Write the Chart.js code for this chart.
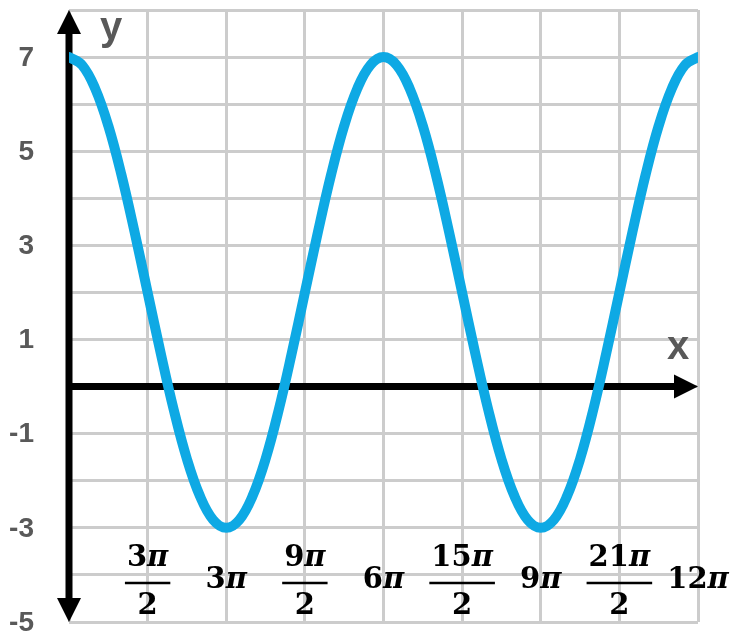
<!DOCTYPE html>
<html>
<head>
<meta charset="utf-8">
<script src="https://cdn.jsdelivr.net/npm/chart.js@4.4.0/dist/chart.umd.min.js"></script>
<style>
  body { margin: 0; background: #fff; }
  #wrap { width: 732px; height: 637px; }
</style>
</head>
<body>
<div id="wrap"><canvas id="cosChart"></canvas></div>
<script>
// x in units of pi, step pi/4
const xValues = [0, 0.25, 0.5, 0.75, 1, 1.25, 1.5, 1.75, 2, 2.25, 2.5, 2.75, 3,
  3.25, 3.5, 3.75, 4, 4.25, 4.5, 4.75, 5, 5.25, 5.5, 5.75, 6,
  6.25, 6.5, 6.75, 7, 7.25, 7.5, 7.75, 8, 8.25, 8.5, 8.75, 9,
  9.25, 9.5, 9.75, 10, 10.25, 10.5, 10.75, 11, 11.25, 11.5, 11.75, 12];
const yValues = [7, 6.83, 6.33, 5.54, 4.5, 3.29, 2, 0.71, -0.5, -1.54, -2.33, -2.83, -3,
  -2.83, -2.33, -1.54, -0.5, 0.71, 2, 3.29, 4.5, 5.54, 6.33, 6.83, 7,
  6.83, 6.33, 5.54, 4.5, 3.29, 2, 0.71, -0.5, -1.54, -2.33, -2.83, -3,
  -2.83, -2.33, -1.54, -0.5, 0.71, 2, 3.29, 4.5, 5.54, 6.33, 6.83, 7];

const xTickValues = [1.5, 3, 4.5, 6, 7.5, 9, 10.5, 12];
const xTickLabels = ['3π/2', '3π', '9π/2', '6π', '15π/2', '9π', '21π/2', '12π'];
const yTickValues = [-5, -3, -1, 1, 3, 5, 7];
const yTickLabels = ['-5', '-3', '-1', '1', '3', '5', '7'];

const labelGray = '#595959';
const curveBlue = '#0ea9e4';
const digitFont = 'bold 29px "DejaVu Serif", serif';
const piFont = 'italic bold 29px "DejaVu Serif", serif';

// draws e.g. "15π" centred at cx, digits upright and pi italic
const drawPiText = (ctx, text, cx, cy) => {
  const digits = text.replace('π', '');
  const hasPi = text.includes('π');
  ctx.font = digitFont;
  const wd = ctx.measureText(digits).width;
  ctx.font = piFont;
  const wp = hasPi ? ctx.measureText('π').width : 0;
  let x = cx - (wd + wp) / 2;
  ctx.textAlign = 'left';
  ctx.font = digitFont;
  ctx.fillText(digits, x, cy);
  if (hasPi) {
    ctx.font = piFont;
    ctx.fillText('π', x + wd, cy);
  }
  return wd + wp;
};

const axesPlugin = {
  id: 'axes',
  // black axes with arrowheads, under the curve
  beforeDatasetsDraw(chart) {
    const { ctx, scales: { x, y } } = chart;
    const x0 = x.getPixelForValue(0);
    const y0 = y.getPixelForValue(0);
    const top = y.getPixelForValue(y.max);
    const bottom = y.getPixelForValue(y.min);
    const right = x.getPixelForValue(x.max);
    ctx.save();
    ctx.strokeStyle = '#000';
    ctx.fillStyle = '#000';
    ctx.lineWidth = 7;
    ctx.beginPath();
    ctx.moveTo(x0, top + 20);
    ctx.lineTo(x0, bottom - 20);
    ctx.moveTo(x0, y0);
    ctx.lineTo(right - 20, y0);
    ctx.stroke();
    // up arrow
    ctx.beginPath();
    ctx.moveTo(x0, top);
    ctx.lineTo(x0 - 12, top + 24);
    ctx.lineTo(x0 + 12, top + 24);
    ctx.closePath();
    ctx.fill();
    // down arrow
    ctx.beginPath();
    ctx.moveTo(x0, bottom);
    ctx.lineTo(x0 - 12, bottom - 24);
    ctx.lineTo(x0 + 12, bottom - 24);
    ctx.closePath();
    ctx.fill();
    // right arrow
    ctx.beginPath();
    ctx.moveTo(right, y0);
    ctx.lineTo(right - 24, y0 - 12);
    ctx.lineTo(right - 24, y0 + 12);
    ctx.closePath();
    ctx.fill();
    ctx.restore();
  },
  afterDraw(chart) {
    const { ctx, scales: { x, y } } = chart;
    ctx.save();
    ctx.fillStyle = labelGray;
    ctx.textBaseline = 'alphabetic';
    ctx.textAlign = 'center';
    ctx.font = 'bold 40px "Liberation Sans", Arial, sans-serif';
    ctx.fillText('y', 111, 40);
    ctx.fillText('x', 678, 359);

    // y tick labels
    ctx.font = 'bold 28px "Liberation Sans", Arial, sans-serif';
    ctx.textAlign = 'right';
    ctx.textBaseline = 'middle';
    yTickValues.forEach((v, i) => {
      ctx.fillText(yTickLabels[i], 34, y.getPixelForValue(v) + 1);
    });

    // pi tick labels along the bottom
    ctx.fillStyle = '#000';
    ctx.strokeStyle = '#000';
    ctx.textBaseline = 'middle';
    xTickValues.forEach((v, i) => {
      const px = x.getPixelForValue(v);
      const parts = xTickLabels[i].split('/');
      if (parts.length === 2) {
        const w = drawPiText(ctx, parts[0], px, 558) + 4;
        drawPiText(ctx, parts[1], px, 606);
        ctx.lineWidth = 2.5;
        ctx.beginPath();
        ctx.moveTo(px - w / 2, 583);
        ctx.lineTo(px + w / 2, 583);
        ctx.stroke();
      } else {
        drawPiText(ctx, parts[0], px, 580);
      }
    });
    ctx.restore();
  }
};

const cosChart = new Chart(document.getElementById('cosChart'), {
  type: 'line',
  data: {
    datasets: [
      {
        data: xValues.map((v, i) => ({ x: v, y: yValues[i] })),
        borderColor: curveBlue,
        borderWidth: 10,
        pointRadius: 0,
        tension: 0.4,
        borderCapStyle: 'round',
        fill: false,
        clip: 0,
      },
    ],
  },
  options: {
    responsive: true,
    maintainAspectRatio: false,
    animation: false,
    layout: { padding: { top: 10, right: 34, bottom: 15, left: 0 } },
    plugins: {
      legend: { display: false },
      tooltip: { enabled: false },
    },
    scales: {
      x: {
        type: 'linear',
        min: 0,
        max: 12,
        afterFit: (s) => { s.height = 0; },
        border: { display: false },
        grid: { color: '#cccccc', lineWidth: 3, drawTicks: false },
        ticks: { display: false, stepSize: 1.5 },
      },
      y: {
        min: -5,
        max: 8,
        afterFit: (s) => { s.width = 69; },
        border: { display: false },
        grid: { color: '#cccccc', lineWidth: 3, drawTicks: false },
        ticks: { display: false, stepSize: 1 },
      },
    },
  },
  plugins: [axesPlugin],
});
</script>
</body>
</html>
